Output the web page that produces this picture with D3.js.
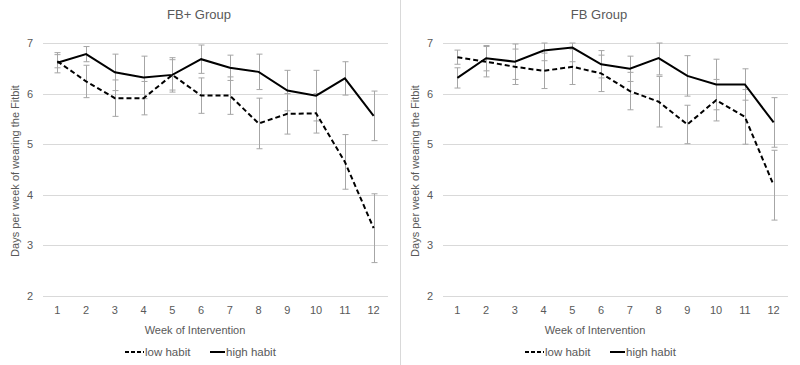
<!DOCTYPE html>
<html>
<head>
<meta charset="utf-8">
<script src="https://cdn.jsdelivr.net/npm/d3@7"></script>
<style>
  body { margin: 0; background: #fff; }
  text { font-family: "Liberation Sans", Arial, sans-serif; fill: #595959; }
</style>
</head>
<body>
<div id="chart"></div>
<script>
// weeks of the intervention
const weeks = [1, 2, 3, 4, 5, 6, 7, 8, 9, 10, 11, 12];
const yTicks = [2, 3, 4, 5, 6, 7];

// FB+ group
const fbPlusLow = [6.64, 6.24, 5.91, 5.91, 6.37, 5.96, 5.96, 5.41, 5.60, 5.61, 4.65, 3.34];
const fbPlusLowErr = [0.13, 0.32, 0.36, 0.33, 0.30, 0.35, 0.37, 0.50, 0.40, 0.39, 0.54, 0.68];
const fbPlusHigh = [6.61, 6.78, 6.42, 6.32, 6.37, 6.68, 6.51, 6.43, 6.06, 5.96, 6.30, 5.56];
const fbPlusHighErr = [0.20, 0.15, 0.36, 0.42, 0.34, 0.28, 0.25, 0.35, 0.40, 0.50, 0.33, 0.49];

// FB group
const fbLow = [6.72, 6.63, 6.53, 6.45, 6.53, 6.40, 6.05, 5.84, 5.39, 5.87, 5.54, 4.19];
const fbLowErr = [0.14, 0.30, 0.35, 0.35, 0.35, 0.36, 0.37, 0.50, 0.38, 0.41, 0.54, 0.69];
const fbHigh = [6.31, 6.70, 6.63, 6.85, 6.91, 6.58, 6.49, 6.70, 6.35, 6.18, 6.18, 5.43];
const fbHighErr = [0.20, 0.25, 0.35, 0.20, 0.28, 0.27, 0.25, 0.33, 0.40, 0.50, 0.31, 0.49];

const panels = [
  {title: "FB+ Group", low: fbPlusLow, lowErr: fbPlusLowErr, high: fbPlusHigh, highErr: fbPlusHighErr},
  {title: "FB Group", low: fbLow, lowErr: fbLowErr, high: fbHigh, highErr: fbHighErr}
];

const width = 800, height = 365;
const svg = d3.select("#chart").append("svg")
  .attr("width", width)
  .attr("height", height);

// divider between the two charts
svg.append("line")
  .attr("x1", 400.5).attr("x2", 400.5)
  .attr("y1", 0).attr("y2", height)
  .attr("stroke", "#d9d9d9");

const x = d3.scalePoint().domain(weeks).range([43, 388]).padding(0.5);
const y = d3.scaleLinear().domain([2, 7]).range([296, 43]);

const line = d3.line()
  .x((d, i) => x(weeks[i]))
  .y(d => y(d));

panels.forEach((p, k) => {
  const g = svg.append("g").attr("transform", "translate(" + (k * 400) + ",0)");

  g.append("text")
    .text(p.title)
    .attr("x", 199).attr("y", 19)
    .attr("text-anchor", "middle")
    .style("font-size", "13px");

  // grid
  g.selectAll(".grid").data(yTicks).enter()
    .append("line")
    .attr("x1", 43).attr("x2", 388)
    .attr("y1", d => Math.round(y(d)) + 0.5)
    .attr("y2", d => Math.round(y(d)) + 0.5)
    .attr("stroke", "#d9d9d9");

  g.selectAll(".ytick").data(yTicks).enter()
    .append("text")
    .text(d => d)
    .attr("x", 33).attr("y", d => y(d) + 4)
    .attr("text-anchor", "end")
    .style("font-size", "11px");

  g.selectAll(".xtick").data(weeks).enter()
    .append("text")
    .text(d => d)
    .attr("x", d => x(d)).attr("y", 314)
    .attr("text-anchor", "middle")
    .style("font-size", "11px");

  g.append("text")
    .text("Week of Intervention")
    .attr("x", 195).attr("y", 334)
    .attr("text-anchor", "middle")
    .style("font-size", "11px");

  g.append("text")
    .text("Days per week of wearing the Fitbit")
    .attr("transform", "translate(19,171) rotate(-90)")
    .attr("text-anchor", "middle")
    .style("font-size", "11px");

  // error bars
  [[p.low, p.lowErr], [p.high, p.highErr]].forEach(([vals, errs]) => {
    const eb = g.append("g").attr("stroke", "#a6a6a6").attr("stroke-width", 1);
    vals.forEach((v, i) => {
      const cx = Math.round(x(weeks[i])) + 0.5;
      const top = y(Math.min(7, v + errs[i]));
      const bot = y(Math.max(2, v - errs[i]));
      eb.append("line").attr("x1", cx).attr("x2", cx).attr("y1", top).attr("y2", bot);
      eb.append("line").attr("x1", cx - 3).attr("x2", cx + 3).attr("y1", top).attr("y2", top);
      eb.append("line").attr("x1", cx - 3).attr("x2", cx + 3).attr("y1", bot).attr("y2", bot);
    });
  });

  g.append("path")
    .attr("d", line(p.low))
    .attr("fill", "none")
    .attr("stroke", "#000")
    .attr("stroke-width", 2)
    .attr("stroke-dasharray", "5,3");

  g.append("path")
    .attr("d", line(p.high))
    .attr("fill", "none")
    .attr("stroke", "#000")
    .attr("stroke-width", 2);

  // legend
  const lg = g.append("g").attr("transform", "translate(0,352)");
  lg.append("line")
    .attr("x1", 125).attr("x2", 144).attr("y1", 0).attr("y2", 0)
    .attr("stroke", "#000").attr("stroke-width", 2).attr("stroke-dasharray", "4,2");
  lg.append("text").text("low habit")
    .attr("x", 145).attr("y", 4).style("font-size", "11.5px");
  lg.append("line")
    .attr("x1", 210).attr("x2", 225).attr("y1", 0).attr("y2", 0)
    .attr("stroke", "#000").attr("stroke-width", 2);
  lg.append("text").text("high habit")
    .attr("x", 226).attr("y", 4).style("font-size", "11.5px");
});
</script>
</body>
</html>
